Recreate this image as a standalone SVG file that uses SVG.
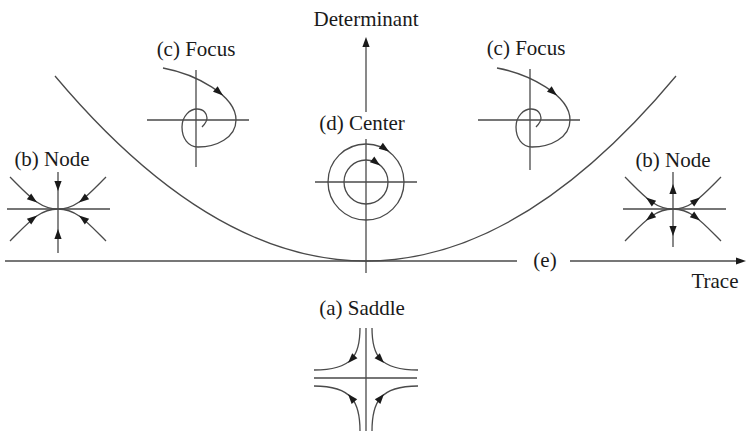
<svg xmlns="http://www.w3.org/2000/svg" xmlns:xlink="http://www.w3.org/1999/xlink" width="747" height="431" viewBox="0 0 747 431">
<style>
.ln{fill:none;stroke:#4a4a4a;stroke-width:1.3}
.ah{fill:#1a1a1a;stroke:none}
.lb{font-family:"Liberation Serif","Times New Roman",serif;font-size:21px;fill:#1a1a1a;text-anchor:middle}
</style>
<defs>
<path id="ah" class="ah" d="M0,0 L-10,-3.6 L-10,3.6 Z"/>
</defs>
<rect width="747" height="431" fill="#ffffff"/>

<g id="connectors">
  <path class="ln" d="M5 261 H517"/>
  <path class="ln" d="M570 261 H737"/>
  <use xlink:href="#ah" transform="translate(746,261)"/>
  <path class="ln" d="M366 112 V45"/>
  <use xlink:href="#ah" transform="translate(366,37) rotate(-90)"/>
  <path class="ln" d="M366 139 V273"/>
  <path id="parabola" class="ln" d="M55 76 Q210.5 261 366 261 Q521.5 261 676 76"/>
</g>

<g id="axis-labels">
  <text class="lb" x="366" y="26">Determinant</text>
  <text class="lb" x="545" y="267">(e)</text>
  <text class="lb" x="715" y="288">Trace</text>
</g>

<g id="node-left">
  <text class="lb" x="52" y="166">(b) Node</text>
  <path class="ln" d="M7 209 H110 M58 172 V253"/>
  <path class="ln" d="M10 177 C30 197 40 209 58 209 M106 177 C86 197 76 209 58 209 M10 241 C30 221 40 209 58 209 M106 241 C86 221 76 209 58 209"/>
  <use xlink:href="#ah" transform="translate(37,202.5) rotate(37)"/>
  <use xlink:href="#ah" transform="translate(79,202.5) rotate(143)"/>
  <use xlink:href="#ah" transform="translate(37,215.5) rotate(-37)"/>
  <use xlink:href="#ah" transform="translate(79,215.5) rotate(-143)"/>
  <use xlink:href="#ah" transform="translate(58,191) rotate(90)"/>
  <use xlink:href="#ah" transform="translate(58,229) rotate(-90)"/>
</g>

<g id="node-right">
  <text class="lb" x="673" y="167">(b) Node</text>
  <path class="ln" d="M623 209 H726 M673 172 V247"/>
  <path class="ln" d="M625 177 C645 197 655 209 673 209 M721 177 C701 197 691 209 673 209 M625 241 C645 221 655 209 673 209 M721 241 C701 221 691 209 673 209"/>
  <use xlink:href="#ah" transform="translate(646,197.5) rotate(217)"/>
  <use xlink:href="#ah" transform="translate(700,197.5) rotate(-37)"/>
  <use xlink:href="#ah" transform="translate(646,220.5) rotate(143)"/>
  <use xlink:href="#ah" transform="translate(700,220.5) rotate(37)"/>
  <use xlink:href="#ah" transform="translate(673,184) rotate(-90)"/>
  <use xlink:href="#ah" transform="translate(673,236) rotate(90)"/>
</g>

<g id="focus-left">
  <text class="lb" x="196" y="56">(c) Focus</text>
  <path class="ln" d="M147 120 H249 M196 70 V167"/>
  <path class="ln" d="M163 68 C195 74 236 95 236 120 C236 138 216 147 198 147 C188 147 182 138 182 127 C182 116 190 109 197 109 C204 109 207 114 207 118 C207 122 204 125 202 127"/>
  <use xlink:href="#ah" transform="translate(223,95.5) rotate(40)"/>
</g>

<g id="focus-right">
  <text class="lb" x="526" y="55">(c) Focus</text>
  <path class="ln" d="M478 120 H580 M530 69 V170"/>
  <g transform="translate(334,0)">
    <path class="ln" d="M163 68 C195 74 236 95 236 120 C236 138 216 147 198 147 C188 147 182 138 182 127 C182 116 190 109 197 109 C204 109 207 114 207 118 C207 122 204 125 202 127"/>
    <use xlink:href="#ah" transform="translate(223,95.5) rotate(40)"/>
  </g>
</g>

<g id="center">
  <text class="lb" x="362" y="130">(d) Center</text>
  <path class="ln" d="M315 182 H417"/>
  <circle class="ln" cx="366" cy="182" r="38"/>
  <circle class="ln" cx="366" cy="182" r="22"/>
  <use xlink:href="#ah" transform="translate(389,151.5) rotate(35)"/>
  <use xlink:href="#ah" transform="translate(380,165.5) rotate(38)"/>
</g>

<g id="saddle">
  <text class="lb" x="362" y="315">(a) Saddle</text>
  <path class="ln" d="M314 378 H417 M366 328 V431"/>
  <path class="ln" d="M360 328 C360 355 353 370 314 370 M372 328 C372 355 379 370 418 370 M360 431 C360 403 353 386 314 386 M372 431 C372 403 379 386 418 386"/>
  <use xlink:href="#ah" transform="translate(348,363) rotate(133)"/>
  <use xlink:href="#ah" transform="translate(384,363) rotate(47)"/>
  <use xlink:href="#ah" transform="translate(348,394) rotate(-130)"/>
  <use xlink:href="#ah" transform="translate(384,394) rotate(-50)"/>
</g>
</svg>
